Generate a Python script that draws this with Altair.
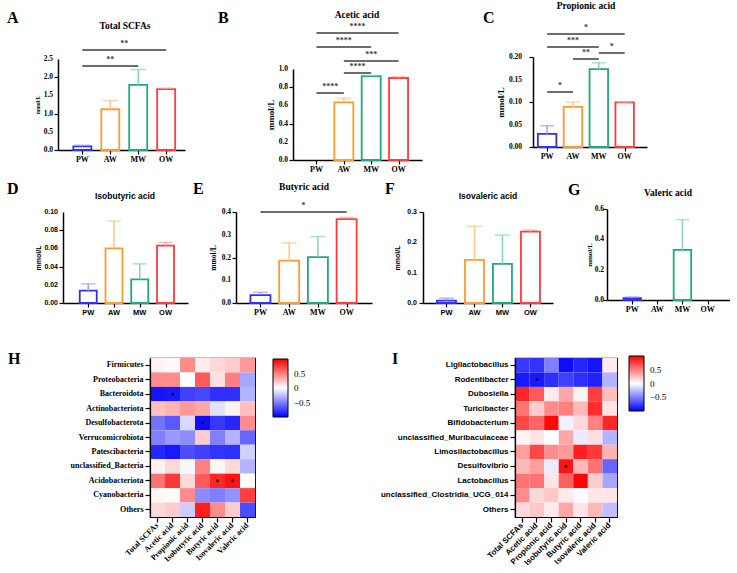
import json
import altair as alt
import pandas as pd

# ---------------- data ----------------
groups = ["PW", "AW", "MW", "OW"]
group_colors = ["#2f2ff5", "#ff9a2e", "#1fa97c", "#ff3b3b"]
error_colors = ["#9d9dfb", "#ffc687", "#86d6b8", "#ff9c9c"]

total_mean = [0.10, 1.12, 1.79, 1.67]
total_sd = [0.03, 0.24, 0.42, 0.03]
acetic_mean = [0.0, 0.634, 0.922, 0.901]
acetic_sd = [0.0, 0.044, 0.008, 0.014]
propionic_mean = [0.029, 0.089, 0.173, 0.099]
propionic_sd = [0.018, 0.011, 0.014, 0.001]
isobutyric_mean = [0.0135, 0.060, 0.026, 0.063]
isobutyric_sd = [0.0075, 0.030, 0.017, 0.0035]
butyric_mean = [0.035, 0.186, 0.202, 0.369]
butyric_sd = [0.012, 0.078, 0.090, 0.007]
isovaleric_mean = [0.008, 0.142, 0.129, 0.235]
isovaleric_sd = [0.008, 0.111, 0.095, 0.005]
valeric_mean = [0.013, 0.0, 0.330, 0.0]
valeric_sd = [0.007, 0.0, 0.200, 0.0]

total_ticks = [0.0, 0.5, 1.0, 1.5, 2.0, 2.5]
acetic_ticks = [0.0, 0.2, 0.4, 0.6, 0.8, 1.0]
propionic_ticks = [0.0, 0.05, 0.10, 0.15, 0.20]
isobutyric_ticks = [0.0, 0.02, 0.04, 0.06, 0.08, 0.10]
butyric_ticks = [0.0, 0.1, 0.2, 0.3, 0.4]
isovaleric_ticks = [0.0, 0.1, 0.2, 0.3]
valeric_ticks = [0.0, 0.2, 0.4, 0.6]

# significance brackets: (from, to, height in mmol/L, label)
total_sig = [("PW", "MW", 2.31, "**"), ("PW", "OW", 2.75, "**")]
acetic_sig = [("PW", "AW", 0.736, "****"), ("AW", "MW", 0.956, "****"),
              ("AW", "OW", 1.088, "***"), ("PW", "MW", 1.242, "****"),
              ("PW", "OW", 1.396, "****")]
propionic_sig = [("PW", "AW", 0.1222, "*"), ("AW", "MW", 0.1956, "**"),
                 ("MW", "OW", 0.2089, "*"), ("PW", "MW", 0.2222, "***"),
                 ("PW", "OW", 0.2511, "*")]
butyric_sig = [("PW", "OW", 0.40, "*")]

acids = ["Total SCFAs", "Acetic acid", "Propionic acid", "Isobutyric acid",
         "Butyric acid", "Isovaleric acid", "Valeric acid"]

phyla = ["Firmicutes", "Proteobacteria", "Bacteroidota", "Actinobacteriota",
         "Desulfobacterota", "Verrucomicrobiota", "Patescibacteria",
         "unclassified_Bacteria", "Acidobacteriota", "Cyanobacteria", "Others"]
phyla_corr = [
    [0.05, 0.02, 0.45, 0.08, 0.15, 0.20, 0.40],
    [0.45, 0.45, 0.00, 0.65, 0.12, 0.50, -0.35],
    [-0.92, -0.90, -0.75, -0.72, -0.82, -0.82, -0.30],
    [0.25, 0.30, 0.40, 0.35, -0.12, 0.05, 0.25],
    [-0.55, -0.65, -0.15, -0.95, -0.78, -0.85, 0.45],
    [-0.50, -0.40, -0.45, 0.20, -0.50, -0.30, -0.60],
    [-0.85, -0.90, -0.70, -0.75, -0.80, -0.82, -0.18],
    [0.05, 0.15, -0.03, 0.50, 0.03, 0.15, -0.30],
    [0.55, 0.78, 0.15, 0.65, 0.85, 0.92, 0.02],
    [0.03, 0.02, 0.45, -0.45, -0.50, -0.42, 0.75],
    [0.15, 0.20, -0.20, 0.88, 0.45, 0.20, -0.70],
]
phyla_sig = [("Bacteroidota", "Acetic acid"), ("Desulfobacterota", "Isobutyric acid"),
             ("Acidobacteriota", "Butyric acid"), ("Acidobacteriota", "Isovaleric acid")]

genera = ["Ligilactobacillus", "Rodentibacter", "Dubosiella", "Turicibacter",
          "Bifidobacterium", "unclassified_Muribaculaceae", "Limosilactobacillus",
          "Desulfovibrio", "Lactobacillus", "unclassified_Clostridia_UCG_014", "Others"]
genera_corr = [
    [-0.78, -0.80, -0.50, -0.95, -0.85, -0.92, 0.08],
    [-0.90, -0.90, -0.82, -0.75, -0.82, -0.87, -0.30],
    [0.85, 0.65, 0.08, 0.35, 0.05, 0.75, 0.25],
    [0.55, 0.20, 0.45, 0.50, 0.28, 0.82, 0.10],
    [0.72, 0.60, 0.97, -0.05, 0.15, 0.50, 0.85],
    [0.04, 0.10, 0.00, 0.35, -0.08, 0.12, -0.30],
    [0.38, 0.72, 0.45, 0.40, 0.88, 0.78, 0.30],
    [0.28, 0.38, -0.08, 0.92, 0.28, 0.55, -0.60],
    [0.55, 0.55, 0.10, 0.62, 0.98, 0.20, -0.35],
    [0.45, 0.15, 0.22, 0.08, -0.02, 0.10, 0.10],
    [0.15, 0.22, 0.08, 0.35, 0.10, 0.28, -0.25],
]
genera_sig = [("Rodentibacter", "Acetic acid"), ("Desulfovibrio", "Isobutyric acid")]

legend_values = [-0.5, 0, 0.5]

# ---------------- styles / layout ----------------
SERIF = "Liberation Serif"
SANS = "Liberation Sans"
heat_colors = ["#0000ff", "#ffffff", "#ff0000"]

LAYOUT = {
    "A": dict(w=127, h=93, ytop=2, c0=21, step=30.33, bw=18, cap=15, lx=-51, ly=-34, tx=67, ty=-28, ytx=-21, yts=5.5, ylo=-5),
    "B": dict(w=129, h=103, ytop=12, c0=20, step=29.67, bw=19, cap=14, lx=-75, ly=-34, tx=64, ty=-39, ytx=-23, yts=9, ylo=-5),
    "C": dict(w=114, h=90, ytop=0, c0=10, step=28.33, bw=18.5, cap=14, lx=-50, ly=-34, tx=53, ty=-48, ytx=-33, yts=9, ylo=-11),
    "D": dict(w=125, h=94, ytop=3, c0=22, step=28, bw=17, cap=14, lx=-56, ly=-15, tx=62, ty=-10, ytx=-25, yts=7, ylo=-5),
    "E": dict(w=136, h=94, ytop=3, c0=21, step=31, bw=20, cap=15, lx=-43, ly=-15, tx=68, ty=-19, ytx=-23, yts=7.5, ylo=-5),
    "F": dict(w=130, h=94, ytop=3, c0=20, step=30.33, bw=19, cap=15, lx=-38, ly=-15, tx=65, ty=-10, ytx=-26, yts=7, ylo=-6),
    "G": dict(w=123, h=91, ytop=0, c0=22, step=27.33, bw=17.5, cap=14, lx=-39, ly=-14, tx=61, ty=-13, ytx=-18, yts=7, ylo=-3),
}
HEAT = {
    "H": dict(w=105, h=159, lx=-142, ly=6, legx=123, legy=1, legl=58),
    "I": dict(w=102, h=159, lx=-123, ly=6, legx=114, legy=-2, legl=55),
}


def text_layer(txt, x, y, font, size, align):
    return alt.Chart(pd.DataFrame({"t": [txt]})).mark_text(
        align=align, baseline="alphabetic", font=font, fontSize=size,
        fontWeight="bold", color="black"
    ).encode(x=alt.value(x), y=alt.value(y), text="t:N")


def bar_panel(key, title, means, sds, ticks, fmt, sigs, font):
    L = LAYOUT[key]
    n = len(groups)
    df = pd.DataFrame({"g": groups, "i": list(range(n)), "m": means,
                       "u": [m + s for m, s in zip(means, sds)]})
    xs = alt.Scale(domain=[-L["c0"] / L["step"], (L["w"] - L["c0"]) / L["step"]],
                   nice=False, zero=False)
    ys = alt.Scale(domain=[0, ticks[-1]], range=[L["h"], L["ytop"]], nice=False, zero=True)
    small = 8 if font == SERIF else 7.5
    xax = alt.Axis(values=list(range(n)), labels=False, title=None, grid=False,
                   tickSize=4, tickWidth=1.2, tickColor="black", domainColor="black",
                   domainWidth=1.5)
    yax = alt.Axis(values=ticks, labels=False, title="mmol/L", titleX=L["ytx"],
                   titleBaseline="middle", titleFont=font, titleFontSize=L["yts"],
                   titleFontWeight="bold", titleColor="black", grid=False,
                   tickSize=4, tickWidth=1.2, tickColor="black",
                   domainColor="black", domainWidth=1.5)
    pos = alt.Chart(df).transform_filter("datum.m > 0")
    bars = pos.mark_bar(filled=False, strokeWidth=1.8, width=L["bw"], orient="vertical").encode(
        x=alt.X("i:Q", scale=xs, axis=xax),
        y=alt.Y("m:Q", scale=ys, axis=yax),
        stroke=alt.Stroke("g:N", scale=alt.Scale(domain=groups, range=group_colors), legend=None),
    )
    ecol = alt.Color("g:N", scale=alt.Scale(domain=groups, range=error_colors), legend=None)
    errs = pos.transform_filter("datum.u > datum.m").mark_rule(strokeWidth=1.5).encode(
        x="i:Q", y="m:Q", y2="u:Q", color=ecol)
    caps = pos.transform_filter("datum.u > datum.m").mark_tick(
        orient="horizontal", size=L["cap"], thickness=1.5).encode(x="i:Q", y="u:Q", color=ecol)
    # tick labels drawn as text through the scales
    xlab = alt.Chart(df).mark_text(baseline="top", align="center", font=font, fontSize=small,
                                   fontWeight="bold", color="black").encode(
        x="i:Q", y=alt.value(L["h"] + 6), text="g:N")
    ylab = alt.Chart(pd.DataFrame({"v": ticks})).mark_text(
        baseline="middle", align="right", font=font, fontSize=small - 0.5,
        fontWeight="bold", color="black").encode(
        x=alt.value(L["ylo"]), y="v:Q", text=alt.Text("v:Q", format=fmt))
    layers = [bars, errs, caps, xlab, ylab]
    if sigs:
        sdf = pd.DataFrame({"a": [groups.index(s[0]) for s in sigs],
                            "b": [groups.index(s[1]) for s in sigs],
                            "y": [s[2] for s in sigs],
                            "lab": [s[3] for s in sigs]})
        sbase = alt.Chart(sdf)
        layers.append(sbase.mark_rule(strokeWidth=1.5, color="#3c3c3c").encode(
            x="a:Q", x2="b:Q", y="y:Q"))
        layers.append(sbase.transform_calculate(mid="(datum.a + datum.b) / 2").mark_text(
            baseline="alphabetic", dy=-4, font=SERIF, fontSize=8, fontWeight="bold",
            color="#3c3c3c").encode(x="mid:Q", y="y:Q", text="lab:N"))
    tsize = 9.5 if font == SERIF else 8.5
    layers.append(text_layer(key, L["lx"], L["ly"], SERIF, 16, "left"))
    layers.append(text_layer(title, L["tx"], L["ty"], font, tsize, "center"))
    return alt.layer(*layers).properties(width=L["w"], height=L["h"])


def heat_panel(key, rows, matrix, sig, font):
    L = HEAT[key]
    df = pd.DataFrame([{"taxon": r, "acid": a, "r": matrix[i][j]}
                       for i, r in enumerate(rows) for j, a in enumerate(acids)])
    sdf = pd.DataFrame({"taxon": [s[0] for s in sig], "acid": [s[1] for s in sig]})
    xsc = alt.Scale(type="band", domain=acids, paddingInner=0, paddingOuter=0)
    ysc = alt.Scale(type="band", domain=rows, paddingInner=0, paddingOuter=0)
    xax = alt.Axis(title=None, labelAngle=315, labelAlign="right", labelBaseline="middle",
                   labelFont=font, labelFontSize=8, labelFontWeight="bold", labelColor="black",
                   tickSize=5, tickColor="black", tickWidth=1.2, domainColor="black",
                   domainWidth=1.2, labelPadding=2, labelOverlap=False)
    yax = alt.Axis(title=None, labelFont=font, labelFontSize=8, labelFontWeight="bold",
                   labelColor="black", tickSize=5, tickColor="black", tickWidth=1.2,
                   domainColor="black", domainWidth=1.2, labelPadding=2, labelLimit=300,
                   labelOverlap=False)
    leg = alt.Legend(orient="none", legendX=L["legx"], legendY=L["legy"], direction="vertical",
                     gradientLength=L["legl"], gradientThickness=15, gradientStrokeColor="black",
                     gradientStrokeWidth=1, values=legend_values, format="~g", title=None,
                     labelFont=SERIF, labelFontSize=9, labelColor="black", labelOffset=6,
                     labelOverlap=False)
    rect = alt.Chart(df).mark_rect().encode(
        x=alt.X("acid:N", scale=xsc, axis=xax),
        y=alt.Y("taxon:N", scale=ysc, axis=yax),
        color=alt.Color("r:Q", scale=alt.Scale(domain=[-1, 0, 1], range=heat_colors,
                                               interpolate="rgb"), legend=leg),
    )
    dots = alt.Chart(sdf).mark_point(filled=True, size=7, color="black", opacity=1).encode(
        x=alt.X("acid:N", scale=xsc), y=alt.Y("taxon:N", scale=ysc))
    letter = text_layer(key, L["lx"], L["ly"], SERIF, 16, "left")
    return alt.layer(rect, dots, letter).properties(
        width=L["w"], height=L["h"], view=alt.ViewBackground(stroke="black", strokeWidth=1.2))


def spacer(w, h=1):
    return alt.Chart(pd.DataFrame({"s": [0]})).mark_point(opacity=0).encode(
        x=alt.X("s:Q", axis=None), y=alt.Y("s:Q", axis=None)).properties(width=w, height=h)


A = bar_panel("A", "Total SCFAs", total_mean, total_sd, total_ticks, ".1f", total_sig, SERIF)
B = bar_panel("B", "Acetic acid", acetic_mean, acetic_sd, acetic_ticks, ".1f", acetic_sig, SERIF)
C = bar_panel("C", "Propionic acid", propionic_mean, propionic_sd, propionic_ticks, ".2f", propionic_sig, SERIF)
D = bar_panel("D", "Isobutyric acid", isobutyric_mean, isobutyric_sd, isobutyric_ticks, ".2f", None, SANS)
E = bar_panel("E", "Butyric acid", butyric_mean, butyric_sd, butyric_ticks, ".1f", butyric_sig, SERIF)
F = bar_panel("F", "Isovaleric acid", isovaleric_mean, isovaleric_sd, isovaleric_ticks, ".1f", None, SANS)
G = bar_panel("G", "Valeric acid", valeric_mean, valeric_sd, valeric_ticks, ".1f", None, SERIF)
H = heat_panel("H", phyla, phyla_corr, phyla_sig, SERIF)
I = heat_panel("I", genera, genera_corr, genera_sig, SANS)


def row(*charts):
    return alt.hconcat(*charts, spacing=0, bounds="flush").resolve_scale(
        x="independent", y="independent", color="independent", stroke="independent")


row1 = row(A, spacer(108), B, spacer(111), C)
row2 = row(spacer(5), D, spacer(48), E, spacer(51), F, spacer(54), G)
row3 = row(spacer(92), H, spacer(260), I)

chart = alt.vconcat(row1, row2, spacer(1, 19), row3, spacing=7).resolve_scale(
    x="independent", y="independent", color="independent", stroke="independent"
).properties(
    padding={"left": 7, "top": 1, "right": 0, "bottom": 0}, background="white"
).configure_view(stroke=None)

chart.save("out.html", embed_options={"renderer": "svg", "actions": False})
